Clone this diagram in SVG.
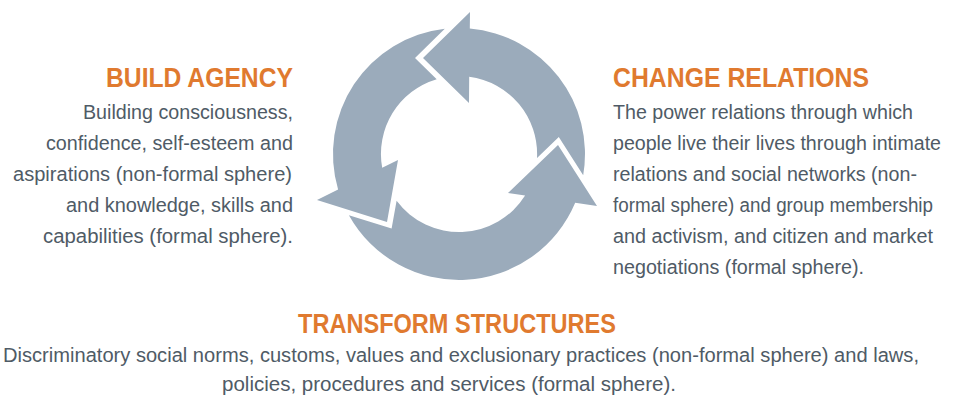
<svg xmlns="http://www.w3.org/2000/svg" width="956" height="398" viewBox="0 0 956 398">
<style>
.arrow{fill:#9babbb;stroke:none}
.head{font-family:"Liberation Sans",Arial,sans-serif;font-weight:bold;font-size:27px;fill:#e07a2f}
.body{font-family:"Liberation Sans",Arial,sans-serif;font-size:20px;fill:#4f5b66}
</style>
<rect width="956" height="398" fill="#ffffff"/>
<g id="connectors">
<path class="arrow" d="M558.8,137 L583.2,175.2 A126,126 0 0 0 469.8,28.5 L470,12 L423,58 L469,103 L469.2,76.7 A78,78 0 0 1 537,158 Z"/>
<path class="arrow" d="M415,58 L444.8,28.8 A126,126 0 0 0 338.1,189.6 L317,200 L387,222 L398,160 L382.2,167.8 A78,78 0 0 1 436.7,79.2 Z"/>
<path class="arrow" d="M391.6,228.6 L348.9,215.2 A126,126 0 0 0 575.2,202.8 L597,206 L558,145 L508,193 L525.1,195.5 A78,78 0 0 1 396.6,200.8 Z"/>
</g>
<g id="build-agency" text-anchor="end">
<text class="head" x="293" y="87" textLength="187" lengthAdjust="spacingAndGlyphs">BUILD AGENCY</text>
<text class="body" x="293" y="119" textLength="210" lengthAdjust="spacingAndGlyphs">Building consciousness,</text>
<text class="body" x="293" y="150" textLength="247" lengthAdjust="spacingAndGlyphs">confidence, self-esteem and</text>
<text class="body" x="292" y="181" textLength="279" lengthAdjust="spacingAndGlyphs">aspirations (non-formal sphere)</text>
<text class="body" x="293" y="212" textLength="227" lengthAdjust="spacingAndGlyphs">and knowledge, skills and</text>
<text class="body" x="293" y="243" textLength="250" lengthAdjust="spacingAndGlyphs">capabilities (formal sphere).</text>
</g>
<g id="change-relations">
<text class="head" x="613" y="87" textLength="256" lengthAdjust="spacingAndGlyphs">CHANGE RELATIONS</text>
<text class="body" x="613" y="119" textLength="300" lengthAdjust="spacingAndGlyphs">The power relations through which</text>
<text class="body" x="613" y="150" textLength="328" lengthAdjust="spacingAndGlyphs">people live their lives through intimate</text>
<text class="body" x="613" y="181" textLength="304" lengthAdjust="spacingAndGlyphs">relations and social networks (non-</text>
<text class="body" x="613" y="212" textLength="320" lengthAdjust="spacingAndGlyphs">formal sphere) and group membership</text>
<text class="body" x="613" y="243" textLength="320" lengthAdjust="spacingAndGlyphs">and activism, and citizen and market</text>
<text class="body" x="613" y="274" textLength="251" lengthAdjust="spacingAndGlyphs">negotiations (formal sphere).</text>
</g>
<g id="transform-structures">
<text class="head" x="298" y="333" textLength="318" lengthAdjust="spacingAndGlyphs">TRANSFORM STRUCTURES</text>
<text class="body" x="3" y="362" textLength="916" lengthAdjust="spacingAndGlyphs">Discriminatory social norms, customs, values and exclusionary practices (non-formal sphere) and laws,</text>
<text class="body" x="222" y="391" textLength="454" lengthAdjust="spacingAndGlyphs">policies, procedures and services (formal sphere).</text>
</g>
</svg>
